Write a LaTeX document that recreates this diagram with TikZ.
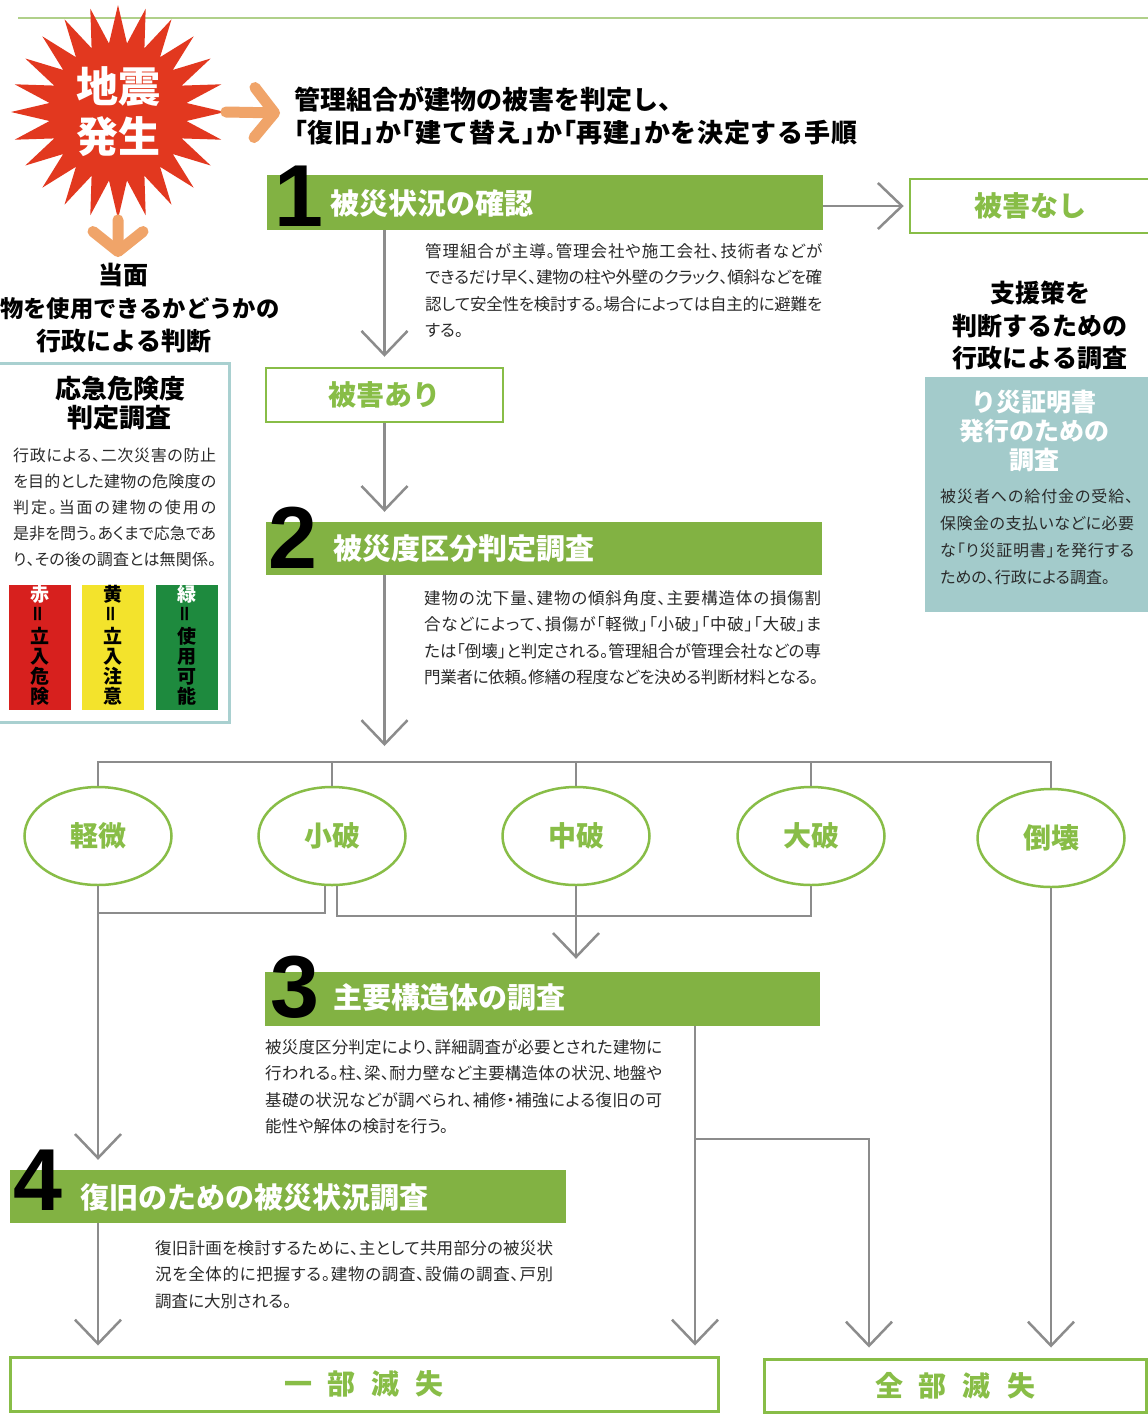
\documentclass[tikz,border=0pt]{standalone}
\usepackage{graphicx}
\usepackage{fontspec}
\setmainfont{Noto Sans CJK JP}
\newfontfamily\bodyfont{Noto Sans CJK JP}[RawFeature=+palt]
\newfontfamily\numfont{Liberation Sans}
\usetikzlibrary{shapes.geometric,arrows.meta,calc}
\definecolor{barg}{HTML}{82B243}
\definecolor{boxg}{HTML}{88BD47}
\definecolor{lineg}{HTML}{8C8C8C}
\definecolor{tealbox}{HTML}{A3CBCB}
\definecolor{tealedge}{HTML}{A9D0D0}
\definecolor{quakered}{HTML}{E2381F}
\definecolor{orangea}{HTML}{F0A469}
\definecolor{txt}{HTML}{2A2A2A}
\definecolor{redbox}{HTML}{D7201E}
\definecolor{yelbox}{HTML}{F3E32C}
\definecolor{grnbox}{HTML}{1E8A3E}
\definecolor{topg}{HTML}{B0D08A}
\newcommand{\jfs}[2]{\fontsize{#1}{#2}\selectfont}
\makeatletter
\newcommand{\jl}[2]{\hbox to #1pt{\@tfor\jx:=#2\do{\jx\hskip0pt plus 1fil minus 1pt}\unskip}}
\makeatother
\newcommand{\jlb}{\kern-.5em「}
\newcommand{\jrb}{」\kern-.5em}
\newcommand{\veq}{\rotatebox{90}{＝}}
\begin{document}
\begin{tikzpicture}[x=1pt,y=-1pt,
 stepbar/.style={fill=barg, draw=none, inner sep=0, minimum height=55},
 digit/.style={font=\numfont\bfseries\jfs{88}{88}, inner sep=0, anchor=base west, text=black},
 bartitle/.style={font=\bfseries\jfs{29}{34}, text=white, inner sep=0, anchor=base west},
 bodytxt/.style={font=\bodyfont\jfs{16.5}{26.5}, text=txt, inner sep=0, anchor=base west, align=left},
 gbox/.style={draw=boxg, line width=2.5, fill=white, inner sep=0, font=\bfseries\jfs{28}{32}, text=boxg},
 ell/.style={ellipse, draw=boxg, line width=2.5, fill=white, minimum width=147, minimum height=98, inner sep=0, font=\bfseries\jfs{28}{32}, text=boxg},
 conn/.style={draw=lineg, line width=2.5},
 arr/.style={conn, -{Straight Barb[length=24pt,width=46pt]}, shorten >=10pt},
 oarr/.style={draw=orangea, line width=11, line cap=round, -{Straight Barb[length=20pt,width=50pt,line cap=round,line join=round]}},
 hd/.style={font=\bfseries\jfs{25}{33}, text=black, inner sep=0, align=center, anchor=base},
 vtxt/.style={font=\bfseries\jfs{19}{20}, inner sep=0, align=center, anchor=base}
]
\useasboundingbox (0,0) rectangle (1148,1414);
\fill[white] (0,0) rectangle (1148,1414);

% top rule
\coordinate (tl) at (18,18);
\coordinate (tr) at (1148,18);
\draw[topg, line width=1.5] (tl) -- (tr);

% quake burst
\node[star, star points=24, star point ratio=1.55, minimum size=214, inner sep=0,
      fill=quakered, draw=none, text=white, align=center,
      font=\bfseries\jfs{42}{50}] (quake) at (118,112) {地震\\発生};
\coordinate (oa1) at (280,113);
\coordinate (oa2) at (118,257);
\draw[oarr] (quake.east) -- (oa1);
\draw[oarr] (quake.south) -- (oa2);

% main title (anchor = baseline of last line)
\node[font=\bfseries\jfs{26}{33}, inner sep=0, anchor=base west, align=left] (title) at (294,142.5)
 {管理組合が建物の被害を判定し、\\\jl{563}{\jlb 復旧\jrb か\jlb 建て替え\jrb か\jlb 再建\jrb かを決定する手順}};

% left heading
\node[hd] (tm1) at (123,284) {当面};
\node[font=\bfseries\jfs{23.3}{33}, inner sep=0, anchor=base west] (tm2) at (0,317) {物を使用できるかどうかの};
\node[hd] (tm3) at (124,350) {行政による判断};

% left box
\draw[tealedge, line width=3] (-2,363) rectangle (229,722);
\node[font=\bfseries\jfs{26}{29}, inner sep=0, align=center, anchor=base] (lbt) at (120,427) {応急危険度\\判定調査};
\node[bodytxt, font=\bodyfont\jfs{16}{26}] (lbb) at (13,565)
 {\jl{203}{行政による、二次災害の防止}\\\jl{203}{を目的とした建物の危険度の}\\\jl{203}{判定。当面の建物の使用の}\\\jl{203}{是非を問う。あくまで応急であ}\\\jl{203}{り、その後の調査とは無関係。}};
\node[fill=redbox, minimum width=62, minimum height=125, inner sep=0] (rb) at (40,647.5) {};
\node[fill=yelbox, minimum width=62, minimum height=125, inner sep=0] (yb) at (113,647.5) {};
\node[fill=grnbox, minimum width=62, minimum height=125, inner sep=0] (gb) at (187,647.5) {};
\node[vtxt] (rt) at (40,703) {\textcolor{white}{赤}\\\veq\\立\\入\\危\\険};
\node[vtxt] (yt) at (113,703) {黄\\\veq\\立\\入\\注\\意};
\node[vtxt] (gt) at (187,703) {\textcolor{white}{緑}\\\veq\\使\\用\\可\\能};

% right heading + teal box
\node[hd, font=\bfseries\jfs{25}{32.5}] (rh) at (1040,367.5) {支援策を\\判断するための\\行政による調査};
\node[fill=tealbox, minimum width=225, minimum height=235, inner sep=0] (tb) at (1037.5,494.5) {};
\node[hd, font=\bfseries\jfs{25}{29}, text=white] (tbt) at (1034,469.5) {り災証明書\\発行のための\\調査};
\node[bodytxt, font=\bodyfont\jfs{16}{27}] (tbb) at (940,583)
 {\jl{193}{被災者への給付金の受給、}\\\jl{194}{保険金の支払いなどに必要}\\\jl{194}{な「り災証明書」を発行する}\\ための、行政による調査。};

% step 1
\node[stepbar, minimum width=556] (s1) at (545,202.5) {};
\node[digit] (n1) at (274,226) {1};
\node[bartitle] (t1) at (330,214) {被災状況の確認};
\node[bodytxt] (p1) at (425,336.5)
 {\jl{397}{管理組合が主導。管理会社や施工会社、技術者などが}\\\jl{397}{できるだけ早く、建物の柱や外壁のクラック、傾斜などを確}\\\jl{397}{認して安全性を検討する。場合によっては自主的に避難を}\\する。};

\node[gbox, minimum width=240, minimum height=54] (nashi) at (1030,206) {被害なし};
\node[gbox, minimum width=237, minimum height=54] (ari) at (384.5,395) {被害あり};

% step 2
\node[stepbar, minimum width=556, minimum height=53] (s2) at (544,548.5) {};
\node[digit] (n2) at (268,568) {2};
\node[bartitle] (t2) at (333,559) {被災度区分判定調査};
\node[bodytxt] (p2) at (424,683.5)
 {\jl{397}{建物の沈下量、建物の傾斜角度、主要構造体の損傷割}\\\jl{397}{合などによって、損傷が「軽微」「小破」「中破」「大破」ま}\\\jl{397}{たは「倒壊」と判定される。管理組合が管理会社などの専}\\\jl{394}{門業者に依頼。修繕の程度などを決める判断材料となる。}};

% damage levels
\node[ell] (e1) at (98,836) {軽微};
\node[ell] (e2) at (332,836) {小破};
\node[ell] (e3) at (576,836) {中破};
\node[ell] (e4) at (811,836) {大破};
\node[ell] (e5) at (1051,838) {倒壊};

% step 3
\node[stepbar, minimum width=555, minimum height=54] (s3) at (542.5,999) {};
\node[digit] (n3) at (270,1017) {3};
\node[bartitle] (t3) at (333,1008) {主要構造体の調査};
\node[bodytxt] (p3) at (265,1132.5)
 {\jl{397}{被災度区分判定により、詳細調査が必要とされた建物に}\\\jl{397}{行われる。柱、梁、耐力壁など主要構造体の状況、地盤や}\\\jl{397}{基礎の状況などが調べられ、補修・補強による復旧の可}\\能性や解体の検討を行う。};

% step 4
\node[stepbar, minimum width=556, minimum height=53] (s4) at (288,1196.5) {};
\node[digit] (n4) at (13,1210) {4};
\node[bartitle] (t4) at (80,1208) {復旧のための被災状況調査};
\node[bodytxt] (p4) at (155,1307)
 {\jl{398}{復旧計画を検討するために、主として共用部分の被災状}\\\jl{398}{況を全体的に把握する。建物の調査、設備の調査、戸別}\\調査に大別される。};

% results
\node[gbox, line width=3, minimum width=708, minimum height=54] (ichibu) at (364,1384) {一\kern16pt 部\kern16pt 滅\kern16pt 失\hspace{28pt}};
\node[gbox, line width=3, minimum width=382, minimum height=53] (zenbu) at (955,1385.5) {全\kern16pt 部\kern16pt 滅\kern16pt 失\hspace{16pt}};

% connectors
\coordinate (bus) at (0,762);
\coordinate (j1) at (0,913);
\coordinate (j2) at (0,916);
\coordinate (b1) at (695,1139);
\coordinate (b2) at (869,1139);

\draw[arr, shorten >=5pt] (nashi.west -| s1.east) -- (nashi.west);
\draw[arr] (s1.south -| ari.north) -- (ari.north);
\draw[arr] (ari.south) -- (ari.south |- s2.north);
\draw[arr, shorten >=16pt] (ari.south |- s2.south) -- (ari.south |- bus);
\draw[conn] (e1.north) |- (e5.north |- bus) -- (e5.north);
\draw[conn] (e2.north) -- (e2.north |- bus);
\draw[conn] (e3.north) -- (e3.north |- bus);
\draw[conn] (e4.north) -- (e4.north |- bus);
\draw[arr] (e1.south) -- (e1.south |- s4.north);
\draw[conn] ([xshift=-7pt]e2.south) |- (e1.south |- j1);
\draw[conn] ([xshift=5pt]e2.south) |- (e4.south |- j2) -- (e4.south);
\draw[arr, shorten >=13pt] (e3.south) -- (e3.south |- s3.north);
\draw[arr] (e5.south) -- (e5.south |- zenbu.north);
\draw[arr] (e1.south |- s4.south) -- (e1.south |- ichibu.north);
\draw[arr] (b1 |- s3.south) -- (b1 |- ichibu.north);
\draw[arr] (b1) -- (b2) -- (b2 |- zenbu.north);
\end{tikzpicture}
\end{document}
